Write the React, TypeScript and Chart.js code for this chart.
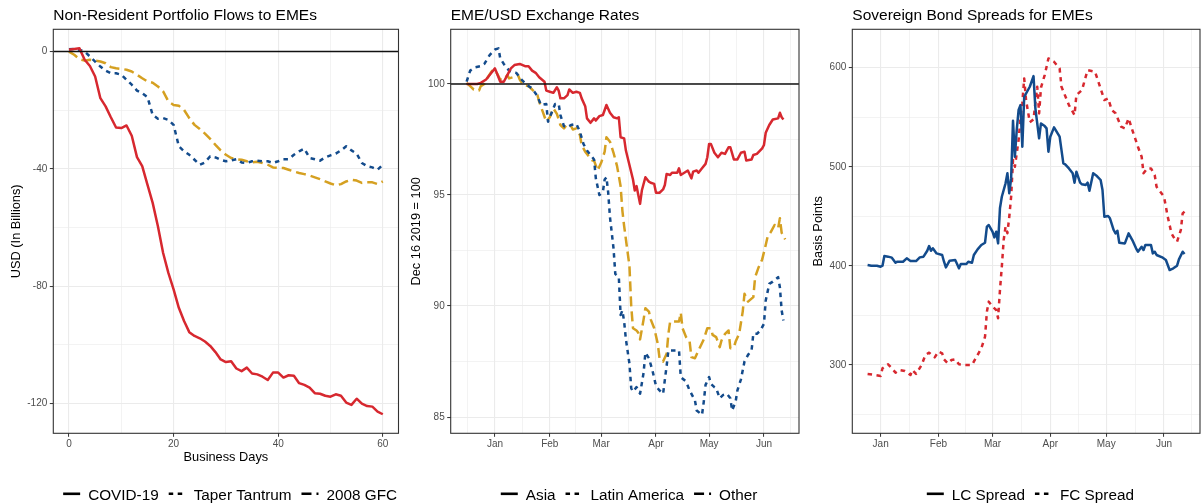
import React, { useEffect, useRef } from "react";
import { Chart, registerables } from "chart.js";

Chart.register(...registerables);

const FONT = '"Liberation Sans", Arial, Helvetica, sans-serif';
Chart.defaults.font.family = FONT;

const RED = "#d7282f";
const BLUE = "#134b8c";
const GOLD = "#d5a021";
const SOLID: number[] = [];
const DOTTED = [4.5, 4.5];
const DASHED = [10, 5];

// ---------- Panel 1: Non-Resident Portfolio Flows (USD bn, by business day) ----------
const COVID_19 = [
  0.6, 0.9, 1.1, -2.8, -4.9, -8.5, -15.9, -18.7, -22.4, -25.9,
  -26.1, -25.2, -28.7, -36, -39.1, -45.4, -51.6, -59.6, -68.7, -75.5,
  -81.1, -87.4, -91.9, -95.7, -97, -97.8, -98.9, -100.4, -102.5, -105,
  -105.9, -105.6, -108.1, -109, -107.8, -109.8, -110.1, -110.9, -112, -109.5,
  -109.5, -111.2, -110.4, -110.6, -113.1, -113.7, -114.6, -116.5, -116.7, -117.4,
  -117.7, -116.9, -117.4, -119.7, -120.5, -118.4, -120.1, -120.9, -121.1, -122.8,
  -123.7,
];
const TAPER_TANTRUM = [
  0.8, 0.9, 0.6, 0, -1.7, -3.4, -5.1, -6.5, -7.4, -7.4,
  -7.9, -9.6, -11.3, -13.3, -14.2, -15.5, -21.6, -22.9, -22.7, -23.3,
  -25, -32.3, -34, -35.2, -36.9, -38.6, -37.8, -35.7, -36.1, -36.9,
  -37.4, -37.1, -36.7, -37.8, -38, -37.4, -37.2, -37.4, -37.4, -38,
  -37.4, -36.7, -36.7, -35.2, -34, -33.1, -36.3, -36.7, -37.2, -36.1,
  -35.4, -34.8, -33.7, -32.3, -33.7, -34.8, -38, -39.1, -39.5, -40.3,
  -38.6,
];
const GFC_2008 = [
  0, -1.1, -2.6, -3.1, -2.8, -3.1, -3.4, -4, -5.3, -5.7,
  -5.9, -6.2, -6.8, -7.9, -9.1, -10.2, -10.6, -11.9, -13.6, -17,
  -18.2, -18.5, -19.9, -22.7, -25, -26.4, -28, -29.8, -31.8, -33.7,
  -35.2, -36.3, -36.7, -36.9, -37.4, -37.8, -37.6, -38, -38.6, -39.5,
  -39.7, -39.7, -40.3, -40.9, -41.4, -41.8, -42.3, -42.9, -43.5, -44.3,
  -45, -45.6, -45.2, -44.3, -43.7, -44, -44.8, -44.6, -44.6, -45.2,
  -44.3,
];
const BUSINESS_DAYS = COVID_19.map((_, i) => i);
const BDAY_TICKS = [0, 20, 40, 60];
const BDAY_TICK_LABELS = ["0", "20", "40", "60"];
const BDAY_MINOR = [10, 30, 50];
const FLOW_TICKS = [-120, -80, -40, 0];
const FLOW_TICK_LABELS = ["-120", "-80", "-40", "0"];
const FLOW_MINOR = [-100, -60, -20];

// ---------- Panel 2: EME/USD exchange rates (days since 1 Jan 2020; Dec 16 2019 = 100) ----------
const ASIA_DAY = [
  -16, -13, -10, -8, -5, -2, 0, 2, 3, 5, 7, 9, 11, 14, 17, 19, 21, 23, 25, 28,
  29, 31, 33, 35, 36, 37, 39, 41, 42, 44, 46, 48, 49, 51, 52, 54, 56, 57, 59, 61,
  63, 65, 67, 69, 70, 71, 73, 74, 76, 78, 79, 80, 81, 82, 83, 85, 87, 88, 90, 91,
  93, 95, 96, 97, 99, 100, 103, 104, 105, 107, 109, 111, 112, 114, 115, 117, 119, 120, 121, 122,
  124, 126, 128, 130, 132, 133, 135, 137, 139, 141, 142, 145, 146, 148, 151, 152, 153, 155, 157, 160,
  161, 162, 163,
];
const ASIA_INDEX = [
  100.0, 100.0, 100.0, 100.05, 100.2, 100.5, 100.7, 100.3, 100.1, 100.1,
  100.4, 100.7, 100.85, 100.9, 100.8, 100.8, 100.6, 100.5, 100.3, 100.1,
  99.7, 99.65, 99.6, 99.85, 99.7, 99.35, 99.35, 99.5, 99.75, 99.6,
  99.65, 99.6, 99.35, 99.0, 98.45, 98.25, 98.45, 98.35, 98.55, 98.6,
  99.05, 98.7, 98.5, 98.45, 98.5, 97.6, 97.55, 97.0, 96.35, 95.7,
  95.2, 95.4, 95.0, 94.6, 95.2, 95.8, 95.6, 95.55, 95.5, 95.1,
  95.1, 95.25, 95.45, 95.95, 95.9, 96.0, 96.0, 96.2, 95.9, 96.0,
  96.1, 95.75, 96.05, 96.1, 96.0, 96.2, 96.4, 96.7, 97.3, 97.3,
  96.9, 96.7, 96.9, 96.85, 97.15, 97.15, 96.6, 96.6, 96.9, 96.95,
  96.55, 96.6, 96.8, 96.85, 97.1, 97.25, 97.8, 98.15, 98.4, 98.45,
  98.7, 98.5, 98.4,
];
const LATAM_DAY = [
  -16, -14, -11, -8, -6, -3, 0, 2, 3, 5, 8, 10, 12, 15, 18, 21, 24, 26, 29, 30,
  32, 34, 36, 37, 39, 41, 43, 46, 48, 50, 52, 54, 56, 57, 59, 61, 62, 63, 64, 65,
  67, 68, 70, 71, 72, 73, 74, 76, 77, 78, 80, 82, 84, 85, 87, 89, 91, 93, 95, 97,
  98, 101, 104, 105, 108, 110, 113, 114, 117, 118, 119, 121, 122, 124, 125, 127, 129, 131, 133, 134,
  136, 137, 139, 141, 143, 145, 146, 148, 150, 152, 153, 155, 157, 160, 161, 162, 163,
];
const LATAM_INDEX = [
  100.1, 100.6, 100.75, 100.8, 100.9, 101.3, 101.55, 101.6, 101.15, 100.9,
  100.6, 100.55, 100.5, 100.2, 99.95, 99.8, 99.45, 99.05, 99.1, 98.3,
  98.7, 99.1, 99.1, 98.6, 98.1, 98.05, 98.15, 98.2, 97.85, 97.3,
  97.0, 96.8, 96.6, 95.75, 95.0, 95.15, 95.7, 95.8, 95.1, 94.0,
  92.6, 91.45, 91.3, 89.6, 89.8, 89.3, 88.5, 87.4, 86.3, 86.15,
  86.35, 86.05, 87.0, 87.9, 87.65, 87.1, 86.4, 86.2, 86.05, 87.3,
  88.0, 88.0, 88.0, 86.8, 86.6, 86.2, 85.75, 85.3, 85.1, 85.7,
  86.45, 86.8, 86.5, 86.35, 86.3, 85.85, 86.0, 86.05, 85.85, 85.3,
  85.7, 86.2, 86.7, 87.5, 87.8, 88.0, 88.75, 88.75, 88.9, 89.2,
  90.25, 91.0, 91.1, 91.3, 90.85, 89.8, 89.35,
];
const OTHER_DAY = [
  -16, -14, -12, -9, -8, -6, -4, -2, -1, 1, 3, 5, 7, 8, 10, 13, 14, 16, 19, 21,
  24, 25, 27, 29, 31, 33, 35, 37, 39, 41, 43, 44, 46, 48, 49, 51, 53, 55, 56, 58,
  60, 62, 63, 65, 67, 69, 71, 72, 73, 74, 76, 77, 78, 80, 81, 82, 84, 85, 87, 88,
  90, 92, 93, 95, 97, 98, 99, 102, 104, 105, 106, 108, 110, 111, 113, 115, 118, 120, 122, 123,
  125, 127, 128, 130, 132, 133, 135, 136, 138, 140, 141, 143, 146, 147, 149, 151, 153, 154, 156, 158,
  160, 161, 162, 164,
];
const OTHER_INDEX = [
  100.05, 99.9, 99.75, 99.7, 99.9, 100.0, 100.3, 100.55, 100.65, 100.5,
  100.2, 100.2, 100.4, 100.25, 100.3, 100.4, 100.2, 99.95, 99.9, 99.75,
  99.5, 99.2, 98.75, 98.3, 98.5, 98.9, 98.65, 98.15, 98.0, 98.2,
  98.1, 97.95, 98.0, 97.7, 97.25, 96.95, 96.75, 96.55, 96.55, 96.1,
  96.45, 96.95, 97.6, 97.4, 96.9, 96.3, 95.4, 94.3, 93.6, 93.0,
  91.8, 90.0, 89.0, 88.9, 88.8, 88.5, 89.4, 89.9, 89.75, 89.4,
  89.0, 88.3, 87.65, 87.5, 87.85, 88.75, 89.3, 89.3, 89.3, 89.7,
  89.0, 88.6, 88.4, 87.7, 87.65, 88.0, 88.5, 89.0, 89.0, 88.7,
  88.6, 88.15, 88.45, 88.75, 88.9, 88.1, 88.15, 88.4, 88.75, 89.75,
  90.55, 90.2, 90.4, 91.3, 91.75, 92.1, 92.75, 93.1, 93.35, 93.65,
  93.5, 93.95, 93.3, 93.0,
];
const MONTH_STARTS = [0, 31, 60, 91, 121, 152];
const MONTH_LABELS = ["Jan", "Feb", "Mar", "Apr", "May", "Jun"];
const MONTH_MIDS = [-15.5, 15.5, 45.5, 75.5, 106, 136.5, 167];
const FX_TICKS = [85, 90, 95, 100];
const FX_TICK_LABELS = ["85", "90", "95", "100"];
const FX_MINOR = [87.5, 92.5, 97.5];

// ---------- Panel 3: Sovereign bond spreads (basis points) ----------
const LC_DAY = [
  -7, -5, -2, 0, 1, 2, 4, 6, 8, 9, 12, 14, 16, 19, 21, 23, 25, 26, 27, 28,
  30, 33, 34, 35, 37, 40, 41, 42, 43, 46, 47, 49, 50, 52, 54, 56, 57, 58, 60, 61,
  62, 63, 64, 65, 67, 68, 69, 70, 71, 72, 73, 74, 75, 76, 77, 80, 82, 83, 85, 86,
  88, 89, 90, 91, 93, 96, 98, 99, 101, 103, 104, 105, 107, 108, 110, 111, 112, 114, 116, 118,
  119, 120, 122, 123, 125, 126, 127, 128, 131, 133, 135, 137, 138, 140, 141, 142, 145, 146, 147, 148,
  151, 153, 155, 157, 159, 160, 162, 163,
];
const LC_SPREAD = [
  400.9, 400.2, 400.2, 399.2, 400.2, 409.9, 409.3, 408.3, 403.2, 404.2,
  404.2, 407.6, 404.9, 404.9, 408.6, 409.3, 415.3, 420.0, 415.3, 417.7,
  412.6, 411.0, 404.2, 398.5, 405.2, 405.9, 401.9, 397.5, 401.9, 401.9,
  404.2, 403.2, 411.0, 416.7, 421.1, 423.4, 439.6, 441.2, 434.5, 428.8,
  434.5, 422.7, 458.1, 469.8, 483.3, 493.4, 473.2, 488.3, 546.5, 510.2,
  537.1, 557.3, 562.3, 520.3, 570.7, 580.8, 591.6, 559.0, 528.7, 543.8,
  541.1, 538.8, 515.2, 530.4, 539.8, 530.4, 503.5, 502.5, 498.4, 493.4,
  484.0, 495.1, 484.0, 482.3, 481.6, 484.0, 475.9, 493.4, 490.7, 486.7,
  476.6, 449.6, 450.3, 448.0, 436.2, 432.8, 435.5, 423.4, 422.7, 432.8,
  426.1, 417.7, 414.3, 419.3, 416.0, 421.1, 421.1, 412.6, 414.3, 411.0,
  408.6, 405.9, 395.8, 397.5, 400.2, 406.6, 414.3, 412.0,
];
const FC_DAY = [
  -7, -3, 0, 1, 4, 6, 8, 10, 13, 16, 17, 19, 22, 24, 26, 29, 31, 33, 34, 36,
  38, 40, 42, 45, 49, 51, 54, 56, 57, 58, 60, 62, 63, 64, 65, 66, 67, 68, 69, 70,
  71, 72, 74, 75, 76, 77, 78, 80, 82, 84, 85, 86, 88, 90, 93, 96, 97, 101, 104, 105,
  108, 111, 115, 120, 122, 124, 126, 129, 131, 133, 135, 138, 140, 141, 143, 145, 147, 148, 150, 152,
  154, 156, 157, 159, 161, 162, 163,
];
const FC_SPREAD = [
  290.9, 289.9, 288.9, 296.6, 300.6, 296.6, 292.2, 294.9, 293.9, 289.9,
  294.9, 290.9, 300.0, 310.1, 312.4, 307.7, 313.4, 311.7, 305.7, 301.6,
  305.0, 305.7, 300.6, 300.0, 300.0, 306.7, 316.8, 328.6, 353.8, 363.9,
  358.8, 355.5, 347.1, 375.6, 399.2, 426.1, 439.6, 433.0, 449.6, 470.0,
  506.8, 500.1, 527.0, 548.9, 564.0, 589.2, 567.4, 545.0, 548.0, 580.8,
  553.9, 580.0, 592.6, 609.4, 606.0, 599.3, 580.8, 562.3, 552.2, 572.4,
  577.5, 597.6, 596.0, 567.4, 569.1, 557.3, 554.0, 540.5, 538.8, 548.9,
  537.1, 520.3, 510.2, 493.4, 498.4, 498.4, 491.7, 479.9, 474.9, 469.8,
  449.6, 432.8, 429.5, 424.4, 436.2, 453.0, 454.7,
];
const BP_TICKS = [300, 400, 500, 600];
const BP_TICK_LABELS = ["300", "400", "500", "600"];
const BP_MINOR = [250, 350, 450, 550];

// ---------- Panel definitions ----------
type Series = { label: string; x: number[]; y: number[]; color: string; dash: number[] };
type Panel = {
  left: number;
  width: number;
  padRight: number;
  yAxisWidth: number;
  yTitlePad: number;
  title: string;
  yTitle: string;
  xTitle?: string;
  xMin: number;
  xMax: number;
  yMin: number;
  yMax: number;
  xMajor: number[];
  xMajorLabels: string[];
  xMinor: number[];
  yMajor: number[];
  yMajorLabels: string[];
  yMinor: number[];
  refLine?: number;
  series: Series[];
};

const PANELS: Panel[] = [
  {
    left: 0,
    width: 400,
    padRight: 1.5,
    yAxisWidth: 53.3,
    yTitlePad: 9.6,
    title: "Non-Resident Portfolio Flows to EMEs",
    yTitle: "USD (In Billions)",
    xTitle: "Business Days",
    xMin: -3,
    xMax: 63,
    yMin: -130.2,
    yMax: 7.6,
    xMajor: BDAY_TICKS,
    xMajorLabels: BDAY_TICK_LABELS,
    xMinor: BDAY_MINOR,
    yMajor: FLOW_TICKS,
    yMajorLabels: FLOW_TICK_LABELS,
    yMinor: FLOW_MINOR,
    refLine: 0,
    series: [
      { label: "COVID-19", x: BUSINESS_DAYS, y: COVID_19, color: RED, dash: SOLID },
      { label: "Taper Tantrum", x: BUSINESS_DAYS, y: TAPER_TANTRUM, color: BLUE, dash: DOTTED },
      { label: "2008 GFC", x: BUSINESS_DAYS, y: GFC_2008, color: GOLD, dash: DASHED },
    ],
  },
  {
    left: 400,
    width: 400,
    padRight: 1,
    yAxisWidth: 50.7,
    yTitlePad: 9.6,
    title: "EME/USD Exchange Rates",
    yTitle: "Dec 16 2019 = 100",
    xMin: -25,
    xMax: 171.8,
    yMin: 84.27,
    yMax: 102.46,
    xMajor: MONTH_STARTS,
    xMajorLabels: MONTH_LABELS,
    xMinor: MONTH_MIDS,
    yMajor: FX_TICKS,
    yMajorLabels: FX_TICK_LABELS,
    yMinor: FX_MINOR,
    refLine: 100,
    series: [
      { label: "Asia", x: ASIA_DAY, y: ASIA_INDEX, color: RED, dash: SOLID },
      { label: "Latin America", x: LATAM_DAY, y: LATAM_INDEX, color: BLUE, dash: DOTTED },
      { label: "Other", x: OTHER_DAY, y: OTHER_INDEX, color: GOLD, dash: DASHED },
    ],
  },
  {
    left: 800,
    width: 402,
    padRight: 2,
    yAxisWidth: 52.3,
    yTitlePad: 11.9,
    title: "Sovereign Bond Spreads for EMEs",
    yTitle: "Basis Points",
    xMin: -15.2,
    xMax: 171.3,
    yMin: 231,
    yMax: 638.8,
    xMajor: MONTH_STARTS,
    xMajorLabels: MONTH_LABELS,
    xMinor: MONTH_MIDS,
    yMajor: BP_TICKS,
    yMajorLabels: BP_TICK_LABELS,
    yMinor: BP_MINOR,
    series: [
      { label: "LC Spread", x: LC_DAY, y: LC_SPREAD, color: BLUE, dash: SOLID },
      { label: "FC Spread", x: FC_DAY, y: FC_SPREAD, color: RED, dash: DOTTED },
    ],
  },
];

const CANVAS_H = 504;
const PLOT_TOP = 29.3;
const LEGEND_SPACE = 40;
const X_AXIS_H = 30.7;

function makeAxis(
  min: number,
  max: number,
  major: number[],
  labels: string[],
  minor: number[],
  fitter: (s: any) => void,
  title: any,
  tickPad: number
) {
  const all = [...major, ...minor].filter((v) => v >= min && v <= max).sort((a, b) => a - b);
  const isMajor = (v: number) => major.indexOf(v) >= 0;
  return {
    type: "linear",
    min,
    max,
    bounds: "data",
    afterBuildTicks: (s: any) => {
      s.ticks = all.map((v) => ({ value: v }));
    },
    afterFit: fitter,
    ticks: {
      autoSkip: false,
      maxRotation: 0,
      minRotation: 0,
      padding: tickPad,
      color: "#4d4d4d",
      font: { size: 10, family: FONT },
      callback: (v: number) => {
        const i = major.indexOf(v);
        return i >= 0 ? labels[i] : "";
      },
    },
    grid: {
      color: "#ebebeb",
      lineWidth: (c: any) => (c.tick && isMajor(c.tick.value) ? 1.1 : 0.6),
      tickLength: 3.5,
      tickWidth: 1,
      tickColor: (c: any) => (c.tick && isMajor(c.tick.value) ? "#333333" : "rgba(0,0,0,0)"),
    },
    border: { display: false },
    title,
  };
}

function buildConfig(p: Panel): any {
  const decor = {
    id: "panelDecor",
    afterDatasetsDraw(chart: any) {
      const { ctx, chartArea, scales } = chart;
      const { left, right, top, bottom } = chartArea;
      if (p.refLine !== undefined) {
        const y = scales.y.getPixelForValue(p.refLine);
        ctx.save();
        ctx.strokeStyle = "#111111";
        ctx.lineWidth = 1.5;
        ctx.beginPath();
        ctx.moveTo(left, y);
        ctx.lineTo(right, y);
        ctx.stroke();
        ctx.restore();
      }
      ctx.save();
      ctx.strokeStyle = "#333333";
      ctx.lineWidth = 1.1;
      ctx.strokeRect(left, top, right - left, bottom - top);
      ctx.restore();
    },
    afterDraw(chart: any) {
      const { ctx, chartArea } = chart;
      ctx.save();
      ctx.fillStyle = "#000000";
      ctx.textBaseline = "alphabetic";
      ctx.textAlign = "left";
      ctx.font = `15.5px ${FONT}`;
      ctx.fillText(p.title, chartArea.left, 20);

      ctx.font = `15.3px ${FONT}`;
      const keyW = 17;
      const keyGap = 8;
      const itemGap = 10;
      const widths = p.series.map((s) => ctx.measureText(s.label).width);
      const total =
        widths.reduce((a, w) => a + keyW + keyGap + w, 0) + itemGap * (p.series.length - 1);
      let x = (chartArea.left + chartArea.right) / 2 + 4.2 - total / 2;
      const lineY = 493.8;
      const textY = 499.8;
      p.series.forEach((s, i) => {
        ctx.strokeStyle = "#000000";
        ctx.lineWidth = 2.6;
        ctx.lineCap = "butt";
        ctx.setLineDash(s.dash);
        ctx.beginPath();
        ctx.moveTo(x, lineY);
        ctx.lineTo(x + keyW, lineY);
        ctx.stroke();
        ctx.setLineDash([]);
        ctx.fillText(s.label, x + keyW + keyGap, textY);
        x += keyW + keyGap + widths[i] + itemGap;
      });
      ctx.restore();
    },
  };

  return {
    type: "line",
    data: {
      datasets: p.series.map((s) => ({
        label: s.label,
        data: s.x.map((x, i) => ({ x, y: s.y[i] })),
        borderColor: s.color,
        backgroundColor: s.color,
        borderWidth: 2.5,
        borderDash: s.dash,
        borderCapStyle: "butt",
        borderJoinStyle: "round",
        pointRadius: 0,
        pointHoverRadius: 0,
        tension: 0,
        fill: false,
      })),
    },
    options: {
      animation: false,
      responsive: false,
      maintainAspectRatio: false,
      devicePixelRatio: 1,
      events: [],
      layout: { padding: { top: PLOT_TOP, bottom: LEGEND_SPACE, left: 0, right: p.padRight } },
      plugins: {
        legend: { display: false },
        tooltip: { enabled: false },
        title: { display: false },
      },
      scales: {
        x: makeAxis(
          p.xMin,
          p.xMax,
          p.xMajor,
          p.xMajorLabels,
          p.xMinor,
          (s: any) => {
            s.height = X_AXIS_H;
          },
          {
            display: !!p.xTitle,
            text: p.xTitle || "",
            color: "#000000",
            font: { size: 12.8, family: FONT, lineHeight: 1 },
            padding: { top: 0, bottom: 0.3 },
          },
          1
        ),
        y: makeAxis(
          p.yMin,
          p.yMax,
          p.yMajor,
          p.yMajorLabels,
          p.yMinor,
          (s: any) => {
            s.width = p.yAxisWidth;
          },
          {
            display: true,
            text: p.yTitle,
            color: "#000000",
            font: { size: 12.8, family: FONT, lineHeight: 1 },
            padding: { top: p.yTitlePad, bottom: 0 },
          },
          2.5
        ),
      },
    },
    plugins: [decor],
  };
}

function PanelChart({ panel }: { panel: Panel }) {
  const ref = useRef<HTMLCanvasElement>(null);
  useEffect(() => {
    const canvas = ref.current;
    if (!canvas) return;
    const chart = new Chart(canvas, buildConfig(panel));
    return () => chart.destroy();
  }, [panel]);
  return (
    <canvas
      ref={ref}
      width={panel.width}
      height={CANVAS_H}
      style={{ position: "absolute", left: panel.left, top: 0, width: panel.width, height: CANVAS_H }}
    />
  );
}

export default function App() {
  return (
    <div
      style={{
        position: "absolute",
        left: 0,
        top: 0,
        width: 1202,
        height: CANVAS_H,
        background: "#ffffff",
        overflow: "hidden",
      }}
    >
      {PANELS.map((p, i) => (
        <PanelChart key={i} panel={p} />
      ))}
    </div>
  );
}
